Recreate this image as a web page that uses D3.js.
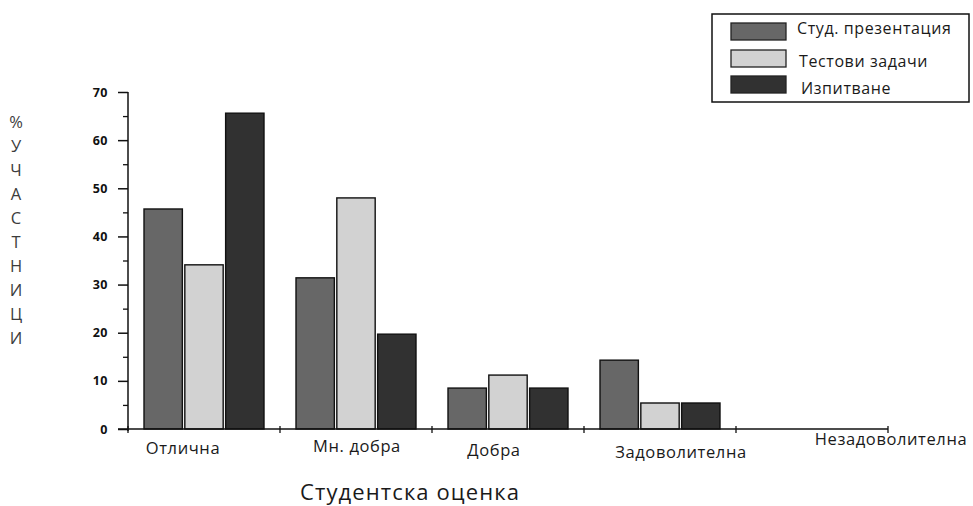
<!DOCTYPE html>
<html>
<head>
<meta charset="utf-8">
<script src="https://cdn.jsdelivr.net/npm/d3@7"></script>
<style>
  html, body { margin: 0; padding: 0; background: #fff; }
  svg { display: block; }
  text { font-family: "Open Sans", "Noto Sans", sans-serif; }
</style>
</head>
<body>
<svg id="chart" width="973" height="506"></svg>
<script>
// Grade categories on the x axis
const categories = ["Отлична", "Мн. добра", "Добра", "Задоволителна", "Незадоволителна"];
// Assessment methods (series)
const seriesNames = ["Студ. презентация", "Тестови задачи", "Изпитване"];
// Percentage of participants per grade, one array per series
const presentationValues = [45.7, 31.4, 8.5, 14.3, 0];
const testValues = [34.1, 48.0, 11.2, 5.4, 0];
const examValues = [65.6, 19.7, 8.5, 5.4, 0];
// Y axis tick labels
const yTickValues = [0, 10, 20, 30, 40, 50, 60, 70];
// Vertical y-axis title, one letter per line
const yTitleLetters = ["%", "У", "Ч", "А", "С", "Т", "Н", "И", "Ц", "И"];

const seriesValues = [presentationValues, testValues, examValues];
const fills = ["#676767", "#d2d2d2", "#313131"];

// Category label placement (nudges from band centre, baseline)
const labelLayout = [
  { dx: -21, y: 454 },
  { dx: 1, y: 452 },
  { dx: -14, y: 456 },
  { dx: 21, y: 458 },
  { dx: 79, y: 445 }
];

const svg = d3.select("#chart");

const x0 = d3.scaleBand().domain(categories).range([128, 888]).paddingInner(0).paddingOuter(0);
const x1 = d3.scaleBand().domain(seriesNames).range([16, 136]).paddingInner(0.06).paddingOuter(0);
const y = d3.scaleLinear().domain([0, 70]).range([429, 92]);

// Bars
const groups = svg.append("g").selectAll("g")
  .data(categories)
  .join("g")
  .attr("transform", d => `translate(${x0(d)},0)`);

groups.selectAll("rect")
  .data((c, ci) => seriesNames.map((s, si) => ({ s, si, v: seriesValues[si][ci] })).filter(d => d.v > 0))
  .join("rect")
  .attr("x", d => x1(d.s))
  .attr("width", x1.bandwidth())
  .attr("y", d => y(d.v))
  .attr("height", d => y(0) - y(d.v))
  .attr("fill", d => fills[d.si])
  .attr("stroke", "#111")
  .attr("stroke-width", 1.4);

// Y axis: major ticks with labels
const yAxis = d3.axisLeft(y).tickValues(yTickValues).tickSize(10).tickPadding(10).tickFormat(d3.format("d"));
const gy = svg.append("g").attr("transform", "translate(128,0)").call(yAxis);
gy.select(".domain").attr("d", `M0,${y(70)}V${y(0) + 2}`).attr("stroke", "#111").attr("stroke-width", 1.5);
gy.selectAll(".tick line").attr("stroke", "#111").attr("stroke-width", 1.5);
gy.selectAll(".tick text")
  .attr("font-family", "'DejaVu Sans', sans-serif")
  .attr("font-weight", "bold")
  .attr("font-size", 12.5)
  .attr("letter-spacing", 0.5)
  .attr("fill", "#111");

// Y axis: minor ticks
const yMinor = d3.axisLeft(y).tickValues([5, 15, 25, 35, 45, 55, 65]).tickSize(5).tickFormat("");
const gym = svg.append("g").attr("transform", "translate(128,0)").call(yMinor);
gym.select(".domain").remove();
gym.selectAll(".tick line").attr("stroke", "#111").attr("stroke-width", 1.3);

// X axis with ticks at category boundaries
const boundaries = categories.map(c => x0(c)).concat([x0.range()[1]]);
const gx = svg.append("g");
gx.append("line")
  .attr("x1", 118).attr("x2", x0.range()[1])
  .attr("y1", y(0)).attr("y2", y(0))
  .attr("stroke", "#111").attr("stroke-width", 1.5);
gx.selectAll("line.tk")
  .data(boundaries)
  .join("line")
  .attr("class", "tk")
  .attr("x1", d => d).attr("x2", d => d)
  .attr("y1", y(0) - 3).attr("y2", y(0) + 4)
  .attr("stroke", "#111").attr("stroke-width", 1.3);

// Category labels
svg.append("g").selectAll("text")
  .data(categories)
  .join("text")
  .attr("x", (d, i) => x0(d) + x0.bandwidth() / 2 + labelLayout[i].dx)
  .attr("y", (d, i) => labelLayout[i].y)
  .attr("text-anchor", "middle")
  .attr("font-size", 16.5)
  .attr("letter-spacing", 0.6)
  .attr("fill", "#1a1a1a")
  .text(d => d);

// X axis title
svg.append("text")
  .attr("x", 410).attr("y", 500)
  .attr("text-anchor", "middle")
  .attr("font-size", 22)
  .attr("letter-spacing", 1.1)
  .attr("fill", "#1a1a1a")
  .text("Студентска оценка");

// Y axis title, stacked letters
svg.append("g").selectAll("text")
  .data(yTitleLetters)
  .join("text")
  .attr("x", 16)
  .attr("y", (d, i) => 128 + i * 24)
  .attr("text-anchor", "middle")
  .attr("font-size", 16.5)
  .attr("fill", "#3c3c3c")
  .text(d => d);

// Legend
const legend = svg.append("g");
legend.append("rect")
  .attr("x", 712).attr("y", 14).attr("width", 257).attr("height", 88)
  .attr("fill", "#fff").attr("stroke", "#111").attr("stroke-width", 1.5);
const legendRows = [{ y: 23, ty: 34 }, { y: 50, ty: 67 }, { y: 76, ty: 94 }];
const items = legend.selectAll("g.item")
  .data(seriesNames)
  .join("g")
  .attr("class", "item");
items.append("rect")
  .attr("x", 731).attr("y", (d, i) => legendRows[i].y)
  .attr("width", 55).attr("height", 17)
  .attr("fill", (d, i) => fills[i])
  .attr("stroke", "#222").attr("stroke-width", 1.3);
items.append("text")
  .attr("x", (d, i) => 797 + i * 2)
  .attr("y", (d, i) => legendRows[i].ty)
  .attr("font-size", 16)
  .attr("letter-spacing", 0.6)
  .attr("fill", "#1a1a1a")
  .text(d => d);
</script>
</body>
</html>
